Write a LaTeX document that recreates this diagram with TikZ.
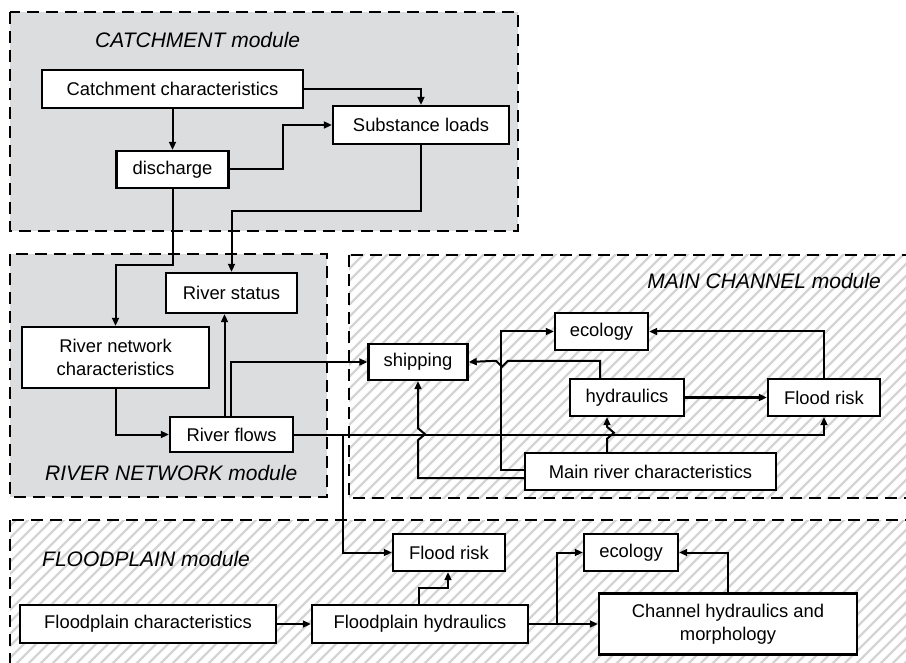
\documentclass[tikz,border=0pt]{standalone}
\usepackage{fontspec}
\setmainfont{Liberation Sans}
\usepackage{xcolor}
\usepackage{tikz}
\usetikzlibrary{arrows.meta,positioning,calc}

\definecolor{modgray}{RGB}{220,221,223}
\definecolor{hatchgray}{RGB}{212,212,212}

\begin{document}
\begin{tikzpicture}[
    x=1pt, y=-1pt,
    box/.style={draw, line width=2.4pt, fill=white, align=center, inner sep=0pt, minimum height=37pt, font=\fontsize{18.4}{23.5}\selectfont},
    module/.style={line width=2.6pt, dash pattern=on 12pt off 7pt},
    modtitle/.style={inner sep=0pt, anchor=west, font=\fontsize{21}{25}\selectfont\itshape},
    hatch/.style={hatchgray, line width=2.2pt},
    link/.style={line width=2pt, -{Triangle[length=8pt,width=7pt]}}
  ]
    \useasboundingbox (0,0) rectangle (906,663);
    \clip (0,0) rectangle (906,663);

    % module areas
    \fill[modgray] (10,12) rectangle (518,231);
    \fill[modgray] (10,254) rectangle (327,497);
    \begin{scope}
      \clip (349,255) rectangle (912,498);
      \foreach \k in {84,96,...,912} \draw[hatch] (\k,510) -- ++(260,-260);
    \end{scope}
    \begin{scope}
      \clip (10,520) rectangle (912,670);
      \foreach \k in {-156,-144,...,912} \draw[hatch] (\k,680) -- ++(180,-180);
    \end{scope}
    \draw[module] (10,12) rectangle (518,231);
    \draw[module] (10,254) rectangle (327,497);
    \draw[module] (349,255) rectangle (930,498);
    \draw[module] (10,520) rectangle (930,690);

    \node[modtitle] (catchtitle) at (95,40) {CATCHMENT module};
    \node[modtitle] (rivertitle) at (45,473) {RIVER NETWORK module};
    \node[modtitle, anchor=east] (maintitle) at (881,281) {MAIN CHANNEL module};
    \node[modtitle] (floodtitle) at (42,559) {FLOODPLAIN module};

    % catchment
    \node[box, minimum width=261pt, minimum height=38pt] (cchar) at (172.5,89) {Catchment characteristics};
    \node[box, minimum width=176pt, minimum height=38pt] (subst) at (421,125) {Substance loads};
    \node[box, minimum width=112pt] (disch) at (172.5,169.5) {discharge};
    % river network
    \node[box, minimum width=131pt, minimum height=40pt] (rstatus) at (231.5,293) {River status};
    \node[box, minimum width=187pt, minimum height=61pt] (rnchar) at (115.5,357.5) {River network\\characteristics};
    \node[box, minimum width=123pt, minimum height=35pt] (rflows) at (231.5,434.5) {River flows};
    % main channel
    \node[box, minimum width=99pt, minimum height=36pt] (shipping) at (418,362) {shipping};
    \node[box, minimum width=93pt] (mceco) at (601.5,331.5) {ecology};
    \node[box, minimum width=114pt] (hydr) at (627,397.5) {hydraulics};
    \node[box, minimum width=112pt] (mcflood) at (824,397.5) {Flood risk};
    \node[box, minimum width=251pt] (mrchar) at (650.5,471.5) {Main river characteristics};
    % floodplain
    \node[box, minimum width=112pt] (fpflood) at (449,552.5) {Flood risk};
    \node[box, minimum width=94pt] (fpeco) at (631,552.5) {ecology};
    \node[box, minimum width=256pt, minimum height=38pt] (fpchar) at (148,624) {Floodplain characteristics};
    \node[box, minimum width=216pt, minimum height=38pt] (fphydr) at (420,624) {Floodplain hydraulics};
    \node[box, minimum width=258pt, minimum height=61pt] (chm) at (728,624) {Channel hydraulics and\\morphology};

    \draw[link] (cchar.east) -| (subst.north);
    \draw[link] (cchar) -- (disch);
    \draw[link] (disch.east) -- ++(53,0) |- (subst.west);
    \draw[link] (disch.south) -- ++(0,76) -| (rnchar.north);
    \draw[link] (subst.south) -- ++(0,66) -| (rstatus.north);

    \draw[link] (rnchar.south) |- (rflows.west);
    \draw[link] ([xshift=-7pt]rflows.north) -- ([xshift=-7pt]rstatus.south);
    \draw[link] ([xshift=-1pt]rflows.north) |- (shipping.west);
    \draw[link] (rflows.east) -| (mcflood.south);
    \draw[link] ($(rflows.east)+(49,0)$) |- (fpflood.west);

    \draw[link] (hydr) -- (mcflood);
    \draw[link] (mcflood.north) |- (mceco.east);
    \draw[link] ([yshift=1.5pt]mrchar.west) -- ++(-23,0) |- (mceco.west);
    \draw[link] ([yshift=-6.5pt]mrchar.west) -| ($(shipping.south)+(0,59)$) -- ++(7,-6) -- ++(-7,-6) -- (shipping.south);
    \draw[link] ([xshift=-43.5pt]mrchar.north) -- ++(0,-13) -- ++(7,-6) -- ++(-7,-6) -- ([xshift=-20pt]hydr.south);
    \draw[link] ([xshift=-27pt]hydr.north) -- ++(0,-17) -- ++(-92,0) -- ++(-6,6) -- ++(-6,-6) -- (shipping.east);

    \draw[link] (fpchar) -- (fphydr);
    \draw[link] ([xshift=-1pt]fphydr.north) -- ++(0,-16) -| ([xshift=-1pt]fpflood.south);
    \draw[link] (fphydr.east) -- (chm.west);
    \draw[link] ($(fphydr.east)+(28,0)$) |- (fpeco.west);
    \draw[link] (chm.north) |- (fpeco.east);
  \end{tikzpicture}
\end{document}
